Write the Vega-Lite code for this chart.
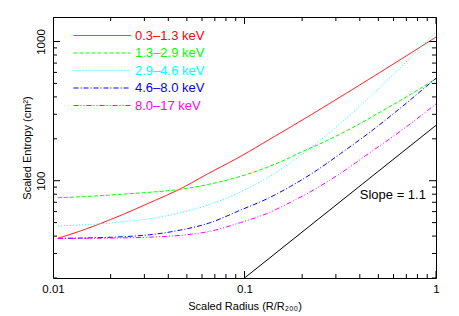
{
  "$schema": "https://vega.github.io/schema/vega-lite/v6.json",
  "width": 383,
  "height": 261,
  "autosize": {"type": "none"},
  "padding": {"left": 53, "top": 17, "right": 23, "bottom": 38},
  "background": "white",
  "config": {
    "view": {"stroke": "#000", "strokeWidth": 1},
    "font": "Liberation Sans",
    "axis": {
      "grid": false,
      "domain": false,
      "ticks": false,
      "labelColor": "#000",
      "titleColor": "#000",
      "labelFontSize": 11.5,
      "titleFontSize": 11,
      "titleFontWeight": "normal",
      "labelFont": "Liberation Sans",
      "titleFont": "Liberation Sans"
    }
  },
  "datasets": {
    "curves": [
      {"band": "0.3–1.3 keV", "r": 0.0106, "s": 38.5},
      {"band": "0.3–1.3 keV", "r": 0.015, "s": 45.2},
      {"band": "0.3–1.3 keV", "r": 0.0224, "s": 56.1},
      {"band": "0.3–1.3 keV", "r": 0.032, "s": 69.5},
      {"band": "0.3–1.3 keV", "r": 0.0463, "s": 87.5},
      {"band": "0.3–1.3 keV", "r": 0.065, "s": 113},
      {"band": "0.3–1.3 keV", "r": 0.0953, "s": 149.5},
      {"band": "0.3–1.3 keV", "r": 0.13, "s": 192},
      {"band": "0.3–1.3 keV", "r": 0.1739, "s": 243},
      {"band": "0.3–1.3 keV", "r": 0.24, "s": 317},
      {"band": "0.3–1.3 keV", "r": 0.3171, "s": 400.4},
      {"band": "0.3–1.3 keV", "r": 0.4457, "s": 534.8},
      {"band": "0.3–1.3 keV", "r": 0.65, "s": 740},
      {"band": "0.3–1.3 keV", "r": 0.8637, "s": 947},
      {"band": "0.3–1.3 keV", "r": 1.0, "s": 1076},

      {"band": "1.3–2.9 keV", "r": 0.0106, "s": 75.5},
      {"band": "1.3–2.9 keV", "r": 0.015, "s": 77.0},
      {"band": "1.3–2.9 keV", "r": 0.0224, "s": 79.8},
      {"band": "1.3–2.9 keV", "r": 0.032, "s": 82.6},
      {"band": "1.3–2.9 keV", "r": 0.0463, "s": 86.7},
      {"band": "1.3–2.9 keV", "r": 0.065, "s": 94.1},
      {"band": "1.3–2.9 keV", "r": 0.0953, "s": 107.5},
      {"band": "1.3–2.9 keV", "r": 0.13, "s": 124.3},
      {"band": "1.3–2.9 keV", "r": 0.1739, "s": 147.3},
      {"band": "1.3–2.9 keV", "r": 0.1961, "s": 159.7},
      {"band": "1.3–2.9 keV", "r": 0.24, "s": 180.4},
      {"band": "1.3–2.9 keV", "r": 0.3171, "s": 216.8},
      {"band": "1.3–2.9 keV", "r": 0.4457, "s": 279},
      {"band": "1.3–2.9 keV", "r": 0.513, "s": 312},
      {"band": "1.3–2.9 keV", "r": 0.65, "s": 376.2},
      {"band": "1.3–2.9 keV", "r": 1.0, "s": 540},

      {"band": "2.9–4.6 keV", "r": 0.0106, "s": 47.3},
      {"band": "2.9–4.6 keV", "r": 0.015, "s": 48.3},
      {"band": "2.9–4.6 keV", "r": 0.0224, "s": 50.4},
      {"band": "2.9–4.6 keV", "r": 0.032, "s": 53.4},
      {"band": "2.9–4.6 keV", "r": 0.0463, "s": 58.9},
      {"band": "2.9–4.6 keV", "r": 0.065, "s": 67.2},
      {"band": "2.9–4.6 keV", "r": 0.0953, "s": 83.0},
      {"band": "2.9–4.6 keV", "r": 0.13, "s": 104.1},
      {"band": "2.9–4.6 keV", "r": 0.1739, "s": 134.8},
      {"band": "2.9–4.6 keV", "r": 0.24, "s": 187.8},
      {"band": "2.9–4.6 keV", "r": 0.3171, "s": 258.2},
      {"band": "2.9–4.6 keV", "r": 0.4457, "s": 394},
      {"band": "2.9–4.6 keV", "r": 0.65, "s": 647.6},
      {"band": "2.9–4.6 keV", "r": 0.8637, "s": 954.7},
      {"band": "2.9–4.6 keV", "r": 1.0, "s": 1169.8},

      {"band": "4.6–8.0 keV", "r": 0.0106, "s": 38.5},
      {"band": "4.6–8.0 keV", "r": 0.015, "s": 38.8},
      {"band": "4.6–8.0 keV", "r": 0.0224, "s": 39.5},
      {"band": "4.6–8.0 keV", "r": 0.032, "s": 40.9},
      {"band": "4.6–8.0 keV", "r": 0.0463, "s": 44.2},
      {"band": "4.6–8.0 keV", "r": 0.065, "s": 49.5},
      {"band": "4.6–8.0 keV", "r": 0.0953, "s": 61.5},
      {"band": "4.6–8.0 keV", "r": 0.13, "s": 73.7},
      {"band": "4.6–8.0 keV", "r": 0.1739, "s": 91},
      {"band": "4.6–8.0 keV", "r": 0.24, "s": 119.5},
      {"band": "4.6–8.0 keV", "r": 0.3171, "s": 156.5},
      {"band": "4.6–8.0 keV", "r": 0.4457, "s": 220},
      {"band": "4.6–8.0 keV", "r": 0.65, "s": 331.8},
      {"band": "4.6–8.0 keV", "r": 1.0, "s": 545},

      {"band": "8.0–17 keV", "r": 0.0106, "s": 38.5},
      {"band": "8.0–17 keV", "r": 0.015, "s": 38.6},
      {"band": "8.0–17 keV", "r": 0.0224, "s": 38.8},
      {"band": "8.0–17 keV", "r": 0.032, "s": 39.3},
      {"band": "8.0–17 keV", "r": 0.0463, "s": 40.5},
      {"band": "8.0–17 keV", "r": 0.065, "s": 43.1},
      {"band": "8.0–17 keV", "r": 0.0953, "s": 50},
      {"band": "8.0–17 keV", "r": 0.13, "s": 57.9},
      {"band": "8.0–17 keV", "r": 0.1739, "s": 70},
      {"band": "8.0–17 keV", "r": 0.2301, "s": 86},
      {"band": "8.0–17 keV", "r": 0.3171, "s": 113},
      {"band": "8.0–17 keV", "r": 0.4457, "s": 157},
      {"band": "8.0–17 keV", "r": 0.65, "s": 226.3},
      {"band": "8.0–17 keV", "r": 1.0, "s": 356}
    ],
    "slope": [
      {"r": 0.1, "s": 20},
      {"r": 1.0, "s": 250}
    ],
    "note": [
      {"r": 0.40, "s": 79, "label": "Slope = 1.1"}
    ],
    "xticks": [
      {"v": 0.01, "major": true}, {"v": 0.02, "major": false}, {"v": 0.03, "major": false},
      {"v": 0.04, "major": false}, {"v": 0.05, "major": false}, {"v": 0.06, "major": false},
      {"v": 0.07, "major": false}, {"v": 0.08, "major": false}, {"v": 0.09, "major": false},
      {"v": 0.1, "major": true}, {"v": 0.2, "major": false}, {"v": 0.3, "major": false},
      {"v": 0.4, "major": false}, {"v": 0.5, "major": false}, {"v": 0.6, "major": false},
      {"v": 0.7, "major": false}, {"v": 0.8, "major": false}, {"v": 0.9, "major": false},
      {"v": 1, "major": true}
    ],
    "yticks": [
      {"v": 20, "major": false}, {"v": 30, "major": false}, {"v": 40, "major": false},
      {"v": 50, "major": false}, {"v": 60, "major": false}, {"v": 70, "major": false},
      {"v": 80, "major": false}, {"v": 90, "major": false}, {"v": 100, "major": true},
      {"v": 200, "major": false}, {"v": 300, "major": false}, {"v": 400, "major": false},
      {"v": 500, "major": false}, {"v": 600, "major": false}, {"v": 700, "major": false},
      {"v": 800, "major": false}, {"v": 900, "major": false}, {"v": 1000, "major": true}
    ]
  },
  "layer": [
    {
      "data": {"name": "curves"},
      "mark": {"type": "line", "strokeWidth": 1, "interpolate": "monotone", "clip": true},
      "encoding": {
        "x": {
          "field": "r", "type": "quantitative",
          "scale": {"type": "log", "domain": [0.01, 1], "nice": false},
          "axis": {
            "orient": "bottom",
            "title": "Scaled Radius (R/R₂₀₀)",
            "values": [0.01, 0.1, 1],
            "format": "~g",
            "labelPadding": 5,
            "titlePadding": 6,
            "labelFlush": false,
            "labelOverlap": false
          }
        },
        "y": {
          "field": "s", "type": "quantitative",
          "scale": {"type": "log", "domain": [20, 1500], "nice": false},
          "axis": {
            "orient": "left",
            "title": "Scaled Entropy (cm²)",
            "values": [100, 1000],
            "format": "~g",
            "labelAngle": -90,
            "labelAlign": "center",
            "labelBaseline": "bottom",
            "labelPadding": 7,
            "titlePadding": 3,
            "labelFlush": false,
            "labelOverlap": false
          }
        },
        "color": {
          "field": "band", "type": "nominal",
          "scale": {
            "domain": ["0.3–1.3 keV", "1.3–2.9 keV", "2.9–4.6 keV", "4.6–8.0 keV", "8.0–17 keV"],
            "range": ["#ff0000", "#00ff00", "#00ffff", "#0000ff", "#ff00ff"]
          },
          "legend": {
            "orient": "none", "legendX": 19, "legendY": 12, "title": null,
            "symbolType": "M-1,0H10.4", "symbolSize": 100, "symbolStrokeWidth": 1,
            "labelFontSize": 13, "labelFont": "Liberation Sans", "labelOffset": 50,
            "rowPadding": 3.5, "padding": 0,
            "encode": {
              "symbols": {"update": {"stroke": {"scale": "color", "field": "value"}}},
              "labels": {"update": {"fill": {"scale": "color", "field": "value"}}}
            }
          }
        },
        "strokeDash": {
          "field": "band", "type": "nominal",
          "scale": {
            "domain": ["0.3–1.3 keV", "1.3–2.9 keV", "2.9–4.6 keV", "4.6–8.0 keV", "8.0–17 keV"],
            "range": [[1, 0], [4, 2], [1, 2], [5, 2, 1, 2], [5, 2, 1, 2, 1, 2]]
          },
          "legend": {
            "orient": "none", "legendX": 19, "legendY": 12, "title": null,
            "symbolType": "M-1,0H10.4", "symbolSize": 100, "symbolStrokeWidth": 1,
            "labelFontSize": 13, "labelFont": "Liberation Sans", "labelOffset": 50,
            "rowPadding": 3.5, "padding": 0,
            "encode": {
              "symbols": {"update": {"stroke": {"scale": "color", "field": "value"}}},
              "labels": {"update": {"fill": {"scale": "color", "field": "value"}}}
            }
          }
        }
      }
    },
    {
      "data": {"name": "slope"},
      "mark": {"type": "line", "color": "#000", "strokeWidth": 1, "clip": true},
      "encoding": {
        "x": {"field": "r", "type": "quantitative"},
        "y": {"field": "s", "type": "quantitative"}
      }
    },
    {
      "data": {"name": "note"},
      "mark": {"type": "text", "align": "left", "baseline": "middle", "fontSize": 13, "font": "Liberation Sans", "color": "#000"},
      "encoding": {
        "x": {"field": "r", "type": "quantitative"},
        "y": {"field": "s", "type": "quantitative"},
        "text": {"field": "label"}
      }
    },
    {
      "data": {"name": "xticks"},
      "mark": {"type": "tick", "orient": "vertical", "color": "#000", "thickness": 1, "opacity": 1, "clip": true},
      "encoding": {
        "x": {"field": "v", "type": "quantitative"},
        "y": {"datum": 20, "type": "quantitative"},
        "size": {"condition": {"test": "datum.major", "value": 14}, "value": 8}
      }
    },
    {
      "data": {"name": "xticks"},
      "mark": {"type": "tick", "orient": "vertical", "color": "#000", "thickness": 1, "opacity": 1, "clip": true},
      "encoding": {
        "x": {"field": "v", "type": "quantitative"},
        "y": {"datum": 1500, "type": "quantitative"},
        "size": {"condition": {"test": "datum.major", "value": 14}, "value": 8}
      }
    },
    {
      "data": {"name": "yticks"},
      "mark": {"type": "tick", "orient": "horizontal", "color": "#000", "thickness": 1, "opacity": 1, "clip": true},
      "encoding": {
        "y": {"field": "v", "type": "quantitative"},
        "x": {"datum": 0.01, "type": "quantitative"},
        "size": {"condition": {"test": "datum.major", "value": 14}, "value": 8}
      }
    },
    {
      "data": {"name": "yticks"},
      "mark": {"type": "tick", "orient": "horizontal", "color": "#000", "thickness": 1, "opacity": 1, "clip": true},
      "encoding": {
        "y": {"field": "v", "type": "quantitative"},
        "x": {"datum": 1, "type": "quantitative"},
        "size": {"condition": {"test": "datum.major", "value": 14}, "value": 8}
      }
    }
  ]
}
